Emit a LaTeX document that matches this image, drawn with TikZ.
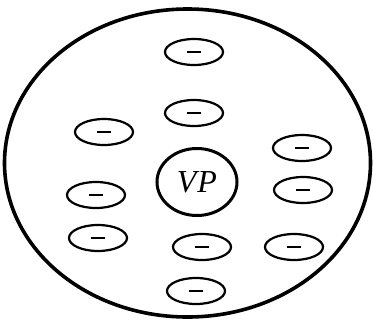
\documentclass[tikz,border=0pt]{standalone}
\usepackage{fontspec}
\setmainfont{Liberation Serif}
\usetikzlibrary{shapes.geometric}
\begin{document}
\begin{tikzpicture}[x=1pt,y=-1pt,
  ion/.style={draw=black,line width=2.2pt,ellipse,minimum width=58pt,minimum height=26pt,inner sep=0pt},
  bigring/.style={draw=black,line width=3.6pt},
  minus/.style={line width=2pt}]
\useasboundingbox (0,0) rectangle (373,322);
\draw[bigring] (187.5,163) ellipse [x radius=183, y radius=154];
\node[draw=black,line width=3pt,ellipse,minimum width=80pt,minimum height=67pt,inner sep=0pt] (vp) at (197,182) {\fontsize{32}{32}\selectfont\itshape V\kern1pt P};
\foreach \n/\x/\y in {a/194/52, b/194/113, c/104/132, d/302/148, e/303/190, f/96/195, g/98/238, h/202/247, i/294/247, j/196/291}{
  \node[ion] (\n) at (\x,\y) {};
  \draw[minus] ([xshift=-7pt]\n.center) -- ([xshift=7pt]\n.center);
}
\end{tikzpicture}
\end{document}
